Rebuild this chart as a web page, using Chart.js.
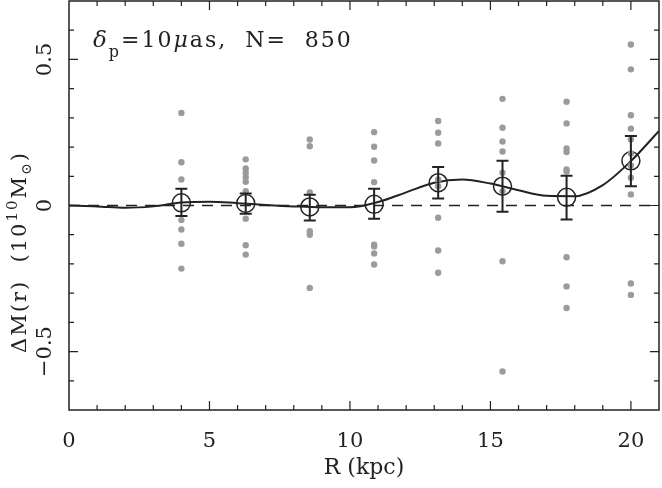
<!DOCTYPE html>
<html>
<head>
<meta charset="utf-8">
<script src="https://cdn.jsdelivr.net/npm/chart.js@4/dist/chart.umd.min.js"></script>
<style>
  html, body { margin: 0; padding: 0; background: #fff; }
  #grafico { display: block; }
</style>
</head>
<body>
<canvas id="grafico" width="662" height="488"></canvas>
<script>
// ─── DADOS ───────────────────────────────────────────────────────────────────
const binR    = [4.0, 6.29, 8.57, 10.86, 13.14, 15.43, 17.71, 20.0];
const binMean = [0.009, 0.007, -0.005, 0.004, 0.078, 0.066, 0.028, 0.153];
const binHi   = [0.057, 0.041, 0.037, 0.057, 0.132, 0.153, 0.102, 0.238];
const binLo   = [-0.036, -0.028, -0.051, -0.045, 0.024, -0.021, -0.048, 0.066];

// pontos cinzas (realizações individuais) por bin
const dotsBin = [
  [0.317, 0.148, 0.089, -0.050, -0.082, -0.131, -0.216],
  [0.158, 0.127, 0.112, 0.097, 0.081, 0.049, -0.045, -0.136, -0.168],
  [0.226, 0.203, 0.045, -0.088, -0.100, -0.282],
  [0.251, 0.201, 0.154, 0.080, -0.134, -0.140, -0.164, -0.202],
  [0.289, 0.249, 0.212, 0.089, 0.066, -0.042, -0.154, -0.230],
  [0.365, 0.266, 0.219, 0.185, 0.112, 0.049, -0.191, -0.568],
  [0.355, 0.281, 0.195, 0.183, 0.123, 0.116, -0.177, -0.277, -0.351],
  [0.551, 0.466, 0.309, 0.263, 0.226, 0.178, 0.137, 0.095, 0.038, -0.267, -0.306]
];

const curveR = [0, 1, 2, 3, 4, 5, 6, 7, 8, 9, 10, 11, 12, 13, 14, 15, 16, 17, 18, 19, 20, 21];
const curveM = [0, -0.003, -0.008, -0.003, 0.010, 0.013, 0.008, 0.002, -0.003, -0.006, -0.006,
                0.012, 0.045, 0.078, 0.089, 0.075, 0.052, 0.033, 0.032, 0.070, 0.152, 0.255];

const xTickLabels = [0, 5, 10, 15, 20];
const yTickLabels = [-0.5, 0, 0.5];

const SERIF = '"DejaVu Serif", "Liberation Serif", serif';
const INK = "#222";

// ─── PLUGIN: moldura, ticks internos, barras de erro, textos ────────────────
const moldura = {
  id: "moldura",
  afterDatasetsDraw(chart) {
    const { ctx, scales: { x, y } } = chart;
    ctx.save();
    ctx.strokeStyle = INK;
    ctx.lineWidth = 2;
    binR.forEach((r, i) => {
      const px = x.getPixelForValue(r);
      const top = y.getPixelForValue(binHi[i]);
      const bot = y.getPixelForValue(binLo[i]);
      ctx.beginPath();
      ctx.moveTo(px, top); ctx.lineTo(px, bot);
      ctx.moveTo(px - 6, top); ctx.lineTo(px + 6, top);
      ctx.moveTo(px - 6, bot); ctx.lineTo(px + 6, bot);
      ctx.stroke();
    });
    ctx.restore();
  },
  afterDraw(chart) {
    const { ctx, chartArea: a, scales: { x, y } } = chart;
    ctx.save();
    ctx.strokeStyle = INK;
    ctx.lineWidth = 1.5;
    ctx.strokeRect(a.left, a.top, a.right - a.left, a.bottom - a.top);

    ctx.lineWidth = 1.2;
    ctx.beginPath();
    x.ticks.forEach(t => {
      const px = x.getPixelForValue(t.value);
      if (px <= a.left + 1 || px >= a.right - 1) return;
      const len = t.value % 5 === 0 ? 9 : 5;
      ctx.moveTo(px, a.bottom); ctx.lineTo(px, a.bottom - len);
      ctx.moveTo(px, a.top);    ctx.lineTo(px, a.top + len);
    });
    y.ticks.forEach(t => {
      const py = y.getPixelForValue(t.value);
      if (py <= a.top + 1 || py >= a.bottom - 1) return;
      const major = Math.abs(Math.round(t.value * 10)) % 5 === 0;
      const len = major ? 9 : 5;
      ctx.moveTo(a.left, py);  ctx.lineTo(a.left + len, py);
      ctx.moveTo(a.right, py); ctx.lineTo(a.right - len, py);
    });
    ctx.stroke();

    // rótulos do eixo y (girados)
    ctx.fillStyle = INK;
    ctx.font = "21px " + SERIF;
    ctx.textAlign = "center";
    ctx.textBaseline = "middle";
    yTickLabels.forEach(v => {
      const py = y.getPixelForValue(v);
      ctx.save();
      ctx.translate(46, py);
      ctx.rotate(-Math.PI / 2);
      ctx.fillText(v < 0 ? "\u2212" + Math.abs(v) : String(v), 0, 0);
      ctx.restore();
    });

    // título do eixo y: ΔM(r)  (10^10 M⊙)
    const partes = [
      { t: "\u0394M(r)  (10", size: 21, dy: 0 },
      { t: "10", size: 15, dy: -9 },
      { t: "M", size: 21, dy: 0 },
      { t: "\u2299", size: 14, dy: 5 },
      { t: ")", size: 21, dy: 0 }
    ];
    desenharRico(ctx, partes, 26, 252, true, 2);

    // anotação δp=10μas, N= 850
    const nota = [
      { t: "\u03b4", size: 23, dy: 0, italic: true },
      { t: "p", size: 16, dy: 10 },
      { t: "=10", size: 22, dy: 0 },
      { t: "\u03bc", size: 22, dy: 0, italic: true },
      { t: "as,  N=  850", size: 22, dy: 0 }
    ];
    desenharRico(ctx, nota, 93, 47, false, 2);
    ctx.restore();
  }
};

function desenharRico(ctx, partes, x0, y0, vertical, espaco) {
  ctx.save();
  ctx.fillStyle = INK;
  ctx.textBaseline = "alphabetic";
  ctx.textAlign = "left";
  ctx.letterSpacing = espaco + "px";
  const fonte = p => (p.italic ? "italic " : "") + p.size + "px " + SERIF;
  let total = 0;
  partes.forEach(p => { ctx.font = fonte(p); p.w = ctx.measureText(p.t).width; total += p.w; });
  ctx.translate(x0, y0);
  let cx = 0;
  if (vertical) { ctx.rotate(-Math.PI / 2); cx = -total / 2; }
  partes.forEach(p => {
    ctx.font = fonte(p);
    ctx.fillText(p.t, cx, p.dy);
    cx += p.w;
  });
  ctx.restore();
}

// ─── GRÁFICO ─────────────────────────────────────────────────────────────────
const pontosCinza = [];
dotsBin.forEach((lista, i) => lista.forEach(v => pontosCinza.push({ x: binR[i], y: v })));

new Chart(document.getElementById("grafico"), {
  type: "scatter",
  data: {
    datasets: [
      {
        data: pontosCinza,
        pointRadius: 3.2,
        pointBackgroundColor: "#9b9b9b",
        pointBorderWidth: 0
      },
      {
        type: "line",
        data: [{ x: 0, y: 0 }, { x: 21, y: 0 }],
        borderColor: INK,
        borderWidth: 1.3,
        borderDash: [11, 8],
        pointRadius: 0
      },
      {
        type: "line",
        data: curveR.map((r, i) => ({ x: r, y: curveM[i] })),
        borderColor: INK,
        borderWidth: 2,
        pointRadius: 0,
        cubicInterpolationMode: "monotone"
      },
      {
        data: binR.map((r, i) => ({ x: r, y: binMean[i] })),
        pointRadius: 9,
        pointBackgroundColor: "rgba(0,0,0,0)",
        pointBorderColor: INK,
        pointBorderWidth: 1.5
      }
    ]
  },
  options: {
    responsive: false,
    animation: false,
    events: [],
    layout: { autoPadding: false, padding: { top: 1, right: 3, left: 0, bottom: 0 } },
    plugins: { legend: { display: false }, tooltip: { enabled: false } },
    scales: {
      x: {
        type: "linear",
        min: 0, max: 21,
        grid: { display: false },
        border: { display: false },
        ticks: {
          stepSize: 1,
          autoSkip: false,
          maxRotation: 0,
          padding: 11,
          color: INK,
          font: { family: SERIF, size: 21 },
          callback: v => xTickLabels.includes(v) ? v : ""
        },
        title: {
          display: true,
          text: "R (kpc)",
          color: INK,
          font: { family: SERIF, size: 22 },
          padding: { top: 0, bottom: 7 }
        },
        afterFit: s => { s.height = 78; s.paddingLeft = 0; s.paddingRight = 0; }
      },
      y: {
        min: -0.7, max: 0.7,
        grid: { display: false },
        border: { display: false },
        ticks: { stepSize: 0.1, display: false },
        afterFit: s => { s.width = 69; s.paddingTop = 0; s.paddingBottom = 0; }
      }
    }
  },
  plugins: [moldura]
});
</script>
</body>
</html>
